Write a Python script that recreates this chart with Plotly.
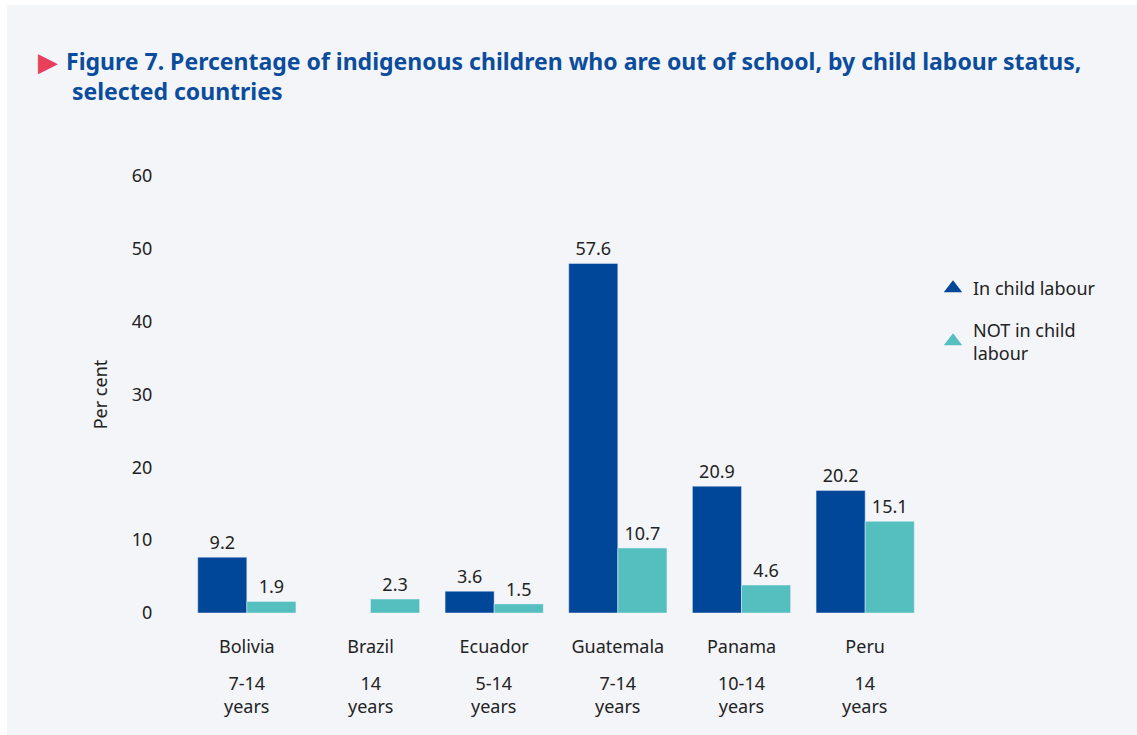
import plotly.graph_objects as go

# Chart data
countries = ["Bolivia", "Brazil", "Ecuador", "Guatemala", "Panama", "Peru"]
age_ranges = ["7-14", "14", "5-14", "7-14", "10-14", "14"]
in_child_labour = [9.2, None, 3.6, 57.6, 20.9, 20.2]
not_in_child_labour = [1.9, 2.3, 1.5, 10.7, 4.6, 15.1]
tick_values = [0, 12, 24, 36, 48, 60, 72]
tick_labels = ["0", "10", "20", "30", "40", "50", "60"]

BLUE = "#00479a"
TEAL = "#55bfbf"
TITLE_BLUE = "#0b4c9c"
TEXT = "#222222"
BG = "#f4f5f9"
FONT = "Noto Sans"

W, H = 1137, 735
L, R, T, B = 185, 210, 176, 122
PW, PH = W - L - R, H - T - B


def px_x(p):
    return (p - L) / PW


def px_y(p):
    return (H - B - p) / PH


def fmt(v):
    return "" if v is None else f"{v:.1f}"


fig = go.Figure()

fig.add_trace(go.Bar(
    x=countries, y=in_child_labour, marker_color=BLUE, showlegend=False,
    text=[fmt(v) for v in in_child_labour], textposition="outside",
    textfont=dict(size=18, color=TEXT), cliponaxis=False,
))
fig.add_trace(go.Bar(
    x=countries, y=not_in_child_labour, marker_color=TEAL, showlegend=False,
    text=[fmt(v) for v in not_in_child_labour], textposition="outside",
    textfont=dict(size=18, color=TEXT), cliponaxis=False,
))

# Legend entries with triangle symbols
fig.add_trace(go.Scatter(
    x=[None], y=[None], mode="markers", name="In child labour", legendgroup="a",
    marker=dict(symbol="triangle-up", size=18, color=BLUE),
))
fig.add_trace(go.Scatter(
    x=[None], y=[None], mode="markers", name="NOT in child<br>labour", legendgroup="b",
    marker=dict(symbol="triangle-up", size=18, color=TEAL),
))

annotations = []
for c, a in zip(countries, age_ranges):
    annotations.append(dict(
        x=c, xref="x", y=px_y(694.5), yref="paper", text=f"{a}<br>years", showarrow=False,
        xanchor="center", yanchor="middle", font=dict(size=18, color=TEXT),
    ))

annotations.append(dict(
    x=px_x(64), xref="paper", y=px_y(75.5), yref="paper", xanchor="left", yanchor="middle",
    align="left", showarrow=False,
    text="<b>Figure 7. Percentage of indigenous children who are out of school, by child labour status,"
         "<br> selected countries</b>",
    font=dict(size=23, color=TITLE_BLUE, family=FONT),
))
annotations.append(dict(
    x=px_x(36), xref="paper", y=px_y(61), yref="paper", xanchor="left", yanchor="middle",
    showarrow=False, text="▶", font=dict(size=26, color="#e8405a"),
))

fig.update_layout(
    width=W, height=H,
    margin=dict(l=L, r=R, t=T, b=B),
    paper_bgcolor=BG, plot_bgcolor=BG,
    font=dict(family=FONT, size=18, color=TEXT),
    barmode="group", bargap=0.206, bargroupgap=0,
    xaxis=dict(showgrid=False, showline=False, zeroline=False, ticks="outside",
               ticklen=17, tickcolor="rgba(0,0,0,0)", tickfont=dict(size=18)),
    yaxis=dict(range=[0, 72], tickvals=tick_values, ticktext=tick_labels,
               showgrid=False, showline=False, zeroline=False,
               ticks="outside", ticklen=28, tickcolor="rgba(0,0,0,0)",
               tickfont=dict(size=18),
               title=dict(text="Per cent", standoff=19, font=dict(size=18))),
    legend=dict(x=px_x(933), y=px_y(270), xanchor="left", yanchor="top",
                font=dict(size=18), tracegroupgap=15, bgcolor="rgba(0,0,0,0)",
                itemwidth=30),
    annotations=annotations,
    shapes=[
        dict(type="rect", xref="paper", yref="paper", x0=px_x(0), x1=px_x(7),
             y0=px_y(H), y1=px_y(0), fillcolor="white", line_width=0, layer="below"),
        dict(type="rect", xref="paper", yref="paper", x0=px_x(0), x1=px_x(W),
             y0=px_y(5), y1=px_y(0), fillcolor="white", line_width=0, layer="below"),
    ],
)

fig.write_html("out.html")
